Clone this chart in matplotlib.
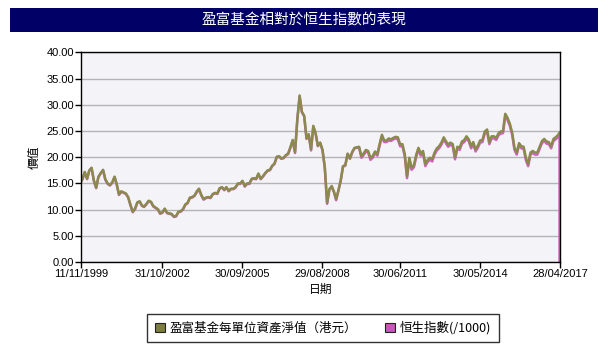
import matplotlib
matplotlib.use("Agg")
import matplotlib.pyplot as plt
from matplotlib.patches import Rectangle, Patch
import pandas as pd

plt.rcParams['font.family'] = ['Liberation Sans', 'Noto Sans CJK TC', 'DejaVu Sans']

title = "盈富基金相對於恒生指數的表現"
x_label = "日期"
y_label = "價值"
fund_label = "盈富基金每單位資產淨值（港元）"
hsi_label = "恒生指數(/1000)"

start_date = "1999-11-11"
end_date = "2017-04-28"
hsi_drop_date = "2017-04-22"
tick_dates = ["1999-11-11", "2002-10-31", "2005-09-30", "2008-08-29",
              "2011-06-30", "2014-05-30", "2017-04-28"]
y_ticks = [0, 5, 10, 15, 20, 25, 30, 35, 40]

month_ends = pd.date_range("1999-11-30", "2017-03-31", freq="ME")
dates = [pd.Timestamp(start_date)] + list(month_ends) + [pd.Timestamp(hsi_drop_date)]

fund = [15.3,
        15.8, 17.2,
        15.9, 17.5, 18.0, 15.6, 14.2, 16.3, 17.0, 17.6, 15.8, 15.0, 14.7, 15.2,
        16.3, 14.9, 12.9, 13.5, 13.3, 13.1, 12.4, 10.9, 9.6, 10.2, 11.4, 11.6,
        10.8, 10.6, 11.1, 11.7, 11.5, 10.7, 10.4, 10.1, 9.3, 9.5, 10.2, 9.4,
        9.3, 9.2, 8.7, 8.8, 9.6, 9.7, 10.1, 11.0, 11.3, 12.3, 12.4, 12.7,
        13.5, 14.0, 12.8, 12.0, 12.3, 12.4, 12.3, 13.0, 13.2, 13.1, 14.1, 14.3,
        13.8, 14.3, 13.6, 14.0, 14.0, 14.3, 15.0, 15.0, 15.5, 14.5, 15.0, 15.0,
        15.9, 16.0, 15.9, 16.9, 15.9, 16.4, 17.0, 17.5, 17.6, 18.4, 18.8, 20.1,
        20.2, 19.8, 19.9, 20.4, 20.7, 21.9, 23.3, 21.0, 27.2, 31.8, 28.7, 27.9,
        23.6, 24.4, 21.5, 26.0, 24.6, 22.2, 22.8, 21.4, 18.1, 11.3, 13.9, 14.5,
        13.4, 12.0, 13.7, 15.6, 18.3, 18.5, 20.7, 19.8, 21.0, 21.8, 21.9, 22.0,
        20.2, 20.7, 21.4, 21.2, 19.9, 20.2, 21.1, 20.6, 22.5, 24.3, 23.2, 23.2,
        23.6, 23.4, 23.7, 23.9, 23.8, 22.5, 22.5, 20.6, 16.4, 19.9, 18.0, 18.5,
        20.5, 21.8, 20.7, 21.2, 18.7, 19.5, 19.9, 19.6, 20.9, 21.7, 22.1, 22.8,
        23.8, 23.1, 22.4, 22.8, 22.5, 20.0, 22.0, 21.8, 23.0, 23.3, 24.0, 23.4,
        22.1, 22.9, 21.5, 22.2, 23.2, 23.3, 24.9, 25.3, 22.9, 24.0, 24.0, 23.7,
        24.6, 24.9, 25.0, 28.3, 27.5, 26.4, 24.7, 21.8, 20.9, 22.7, 22.1, 22.0,
        19.8, 18.7, 20.9, 21.2, 20.9, 20.9, 22.0, 23.1, 23.5, 23.0, 22.9, 22.1,
        23.5, 23.8, 24.2,
        24.7]

hsi = [15.3,
       15.8, 17.1,
       15.8, 17.4, 17.9, 15.5, 14.1, 16.2, 16.9, 17.5, 15.7, 14.9, 14.6, 15.1,
       16.2, 14.8, 12.8, 13.4, 13.2, 13.0, 12.3, 10.8, 9.5, 10.1, 11.3, 11.5,
       10.7, 10.5, 11.0, 11.6, 11.4, 10.6, 10.3, 10.0, 9.2, 9.4, 10.1, 9.3,
       9.2, 9.1, 8.6, 8.7, 9.5, 9.6, 10.0, 10.9, 11.2, 12.2, 12.3, 12.6,
       13.3, 13.9, 12.7, 11.9, 12.2, 12.3, 12.2, 12.9, 13.1, 13.0, 14.0, 14.2,
       13.7, 14.2, 13.5, 13.9, 13.9, 14.2, 14.9, 14.9, 15.4, 14.4, 14.9, 14.9,
       15.8, 15.9, 15.8, 16.7, 15.8, 16.3, 16.9, 17.4, 17.5, 18.3, 18.7, 20.0,
       20.1, 19.7, 19.8, 20.3, 20.6, 21.8, 23.2, 20.8, 27.1, 31.6, 28.6, 27.8,
       23.5, 24.3, 21.3, 25.8, 24.5, 22.1, 22.7, 21.3, 18.0, 11.1, 13.8, 14.4,
       13.3, 11.8, 13.6, 15.5, 18.2, 18.4, 20.6, 19.7, 20.9, 21.7, 21.8, 21.8,
       19.9, 20.4, 21.1, 20.9, 19.5, 19.9, 20.8, 20.3, 22.2, 24.0, 22.9, 22.9,
       23.2, 23.1, 23.4, 23.6, 23.4, 22.1, 22.1, 20.2, 16.0, 19.5, 17.6, 18.1,
       20.1, 21.4, 20.3, 20.8, 18.3, 19.1, 19.5, 19.2, 20.5, 21.3, 21.7, 22.4,
       23.4, 22.7, 22.0, 22.4, 22.1, 19.6, 21.6, 21.4, 22.6, 22.9, 23.6, 23.0,
       21.7, 22.5, 21.1, 21.8, 22.8, 22.9, 24.5, 24.9, 22.5, 23.6, 23.6, 23.3,
       24.2, 24.5, 24.6, 27.9, 27.1, 26.0, 24.3, 21.4, 20.5, 22.3, 21.7, 21.6,
       19.4, 18.3, 20.5, 20.8, 20.5, 20.5, 21.6, 22.7, 23.1, 22.6, 22.5, 21.7,
       23.1, 23.4, 23.8,
       24.3, 0.0]
hsi_dates = dates + [pd.Timestamp(hsi_drop_date)]

fund_color = "#8a8a4c"
hsi_color = "#d062c4"

fig = plt.figure(figsize=(6.08, 3.52), dpi=100)
fig.patch.set_facecolor("white")

# title bar
fig.patches.append(Rectangle((10/608, 1-32/352), 588/608, 24/352,
                             transform=fig.transFigure, facecolor="#000066",
                             edgecolor="none", zorder=0))
fig.text(0.5, 1-20/352, title, color="white", ha="center", va="center",
         fontsize=10.5, family=['Noto Sans CJK TC', 'DejaVu Sans'])

ax = fig.add_axes([81/608, 1-262/352, 479/608, 209.5/352])
ax.set_facecolor("#f4f3f8")

ax.plot(hsi_dates, hsi, color=hsi_color, lw=1.8, zorder=2)
ax.plot(dates, fund, color=fund_color, lw=1.8, zorder=3)

ax.set_xlim(pd.Timestamp(start_date), pd.Timestamp(end_date))
ax.set_ylim(0, 40)
ax.set_yticks(y_ticks)
ax.set_yticklabels([f"{v:.2f}" for v in y_ticks])
ax.set_xticks([pd.Timestamp(d) for d in tick_dates])
ax.set_xticklabels([pd.Timestamp(d).strftime("%d/%m/%Y") for d in tick_dates])
ax.yaxis.grid(True, color="#b4b4b4", lw=1)
ax.set_axisbelow(True)
ax.tick_params(axis="both", direction="out", length=4, width=1,
               labelsize=8, pad=1, colors="black")
for s in ax.spines.values():
    s.set_color("black")
    s.set_linewidth(1)
    s.set_zorder(4)

ax.set_ylabel(y_label, fontsize=8.5, family=['Noto Sans CJK TC', 'DejaVu Sans'], labelpad=4)
ax.set_xlabel(x_label, fontsize=8.5, family=['Noto Sans CJK TC', 'DejaVu Sans'], labelpad=3)

handles = [Patch(facecolor="#7c7d3e", edgecolor="#222222", lw=0.8),
           Patch(facecolor="#cc55bb", edgecolor="#222222", lw=0.8)]
leg = fig.legend(handles, [fund_label, hsi_label], loc="center",
                 bbox_to_anchor=(323/608, 1-328/352), ncol=2,
                 frameon=True, fancybox=False, edgecolor="black",
                 handlelength=0.8, handleheight=0.8, handletextpad=0.4,
                 columnspacing=2.2, borderpad=0.6,
                 prop={'family': ['Noto Sans CJK TC', 'DejaVu Sans'], 'size': 9})
leg.get_frame().set_linewidth(1)

fig.savefig("out.png", dpi=100)
